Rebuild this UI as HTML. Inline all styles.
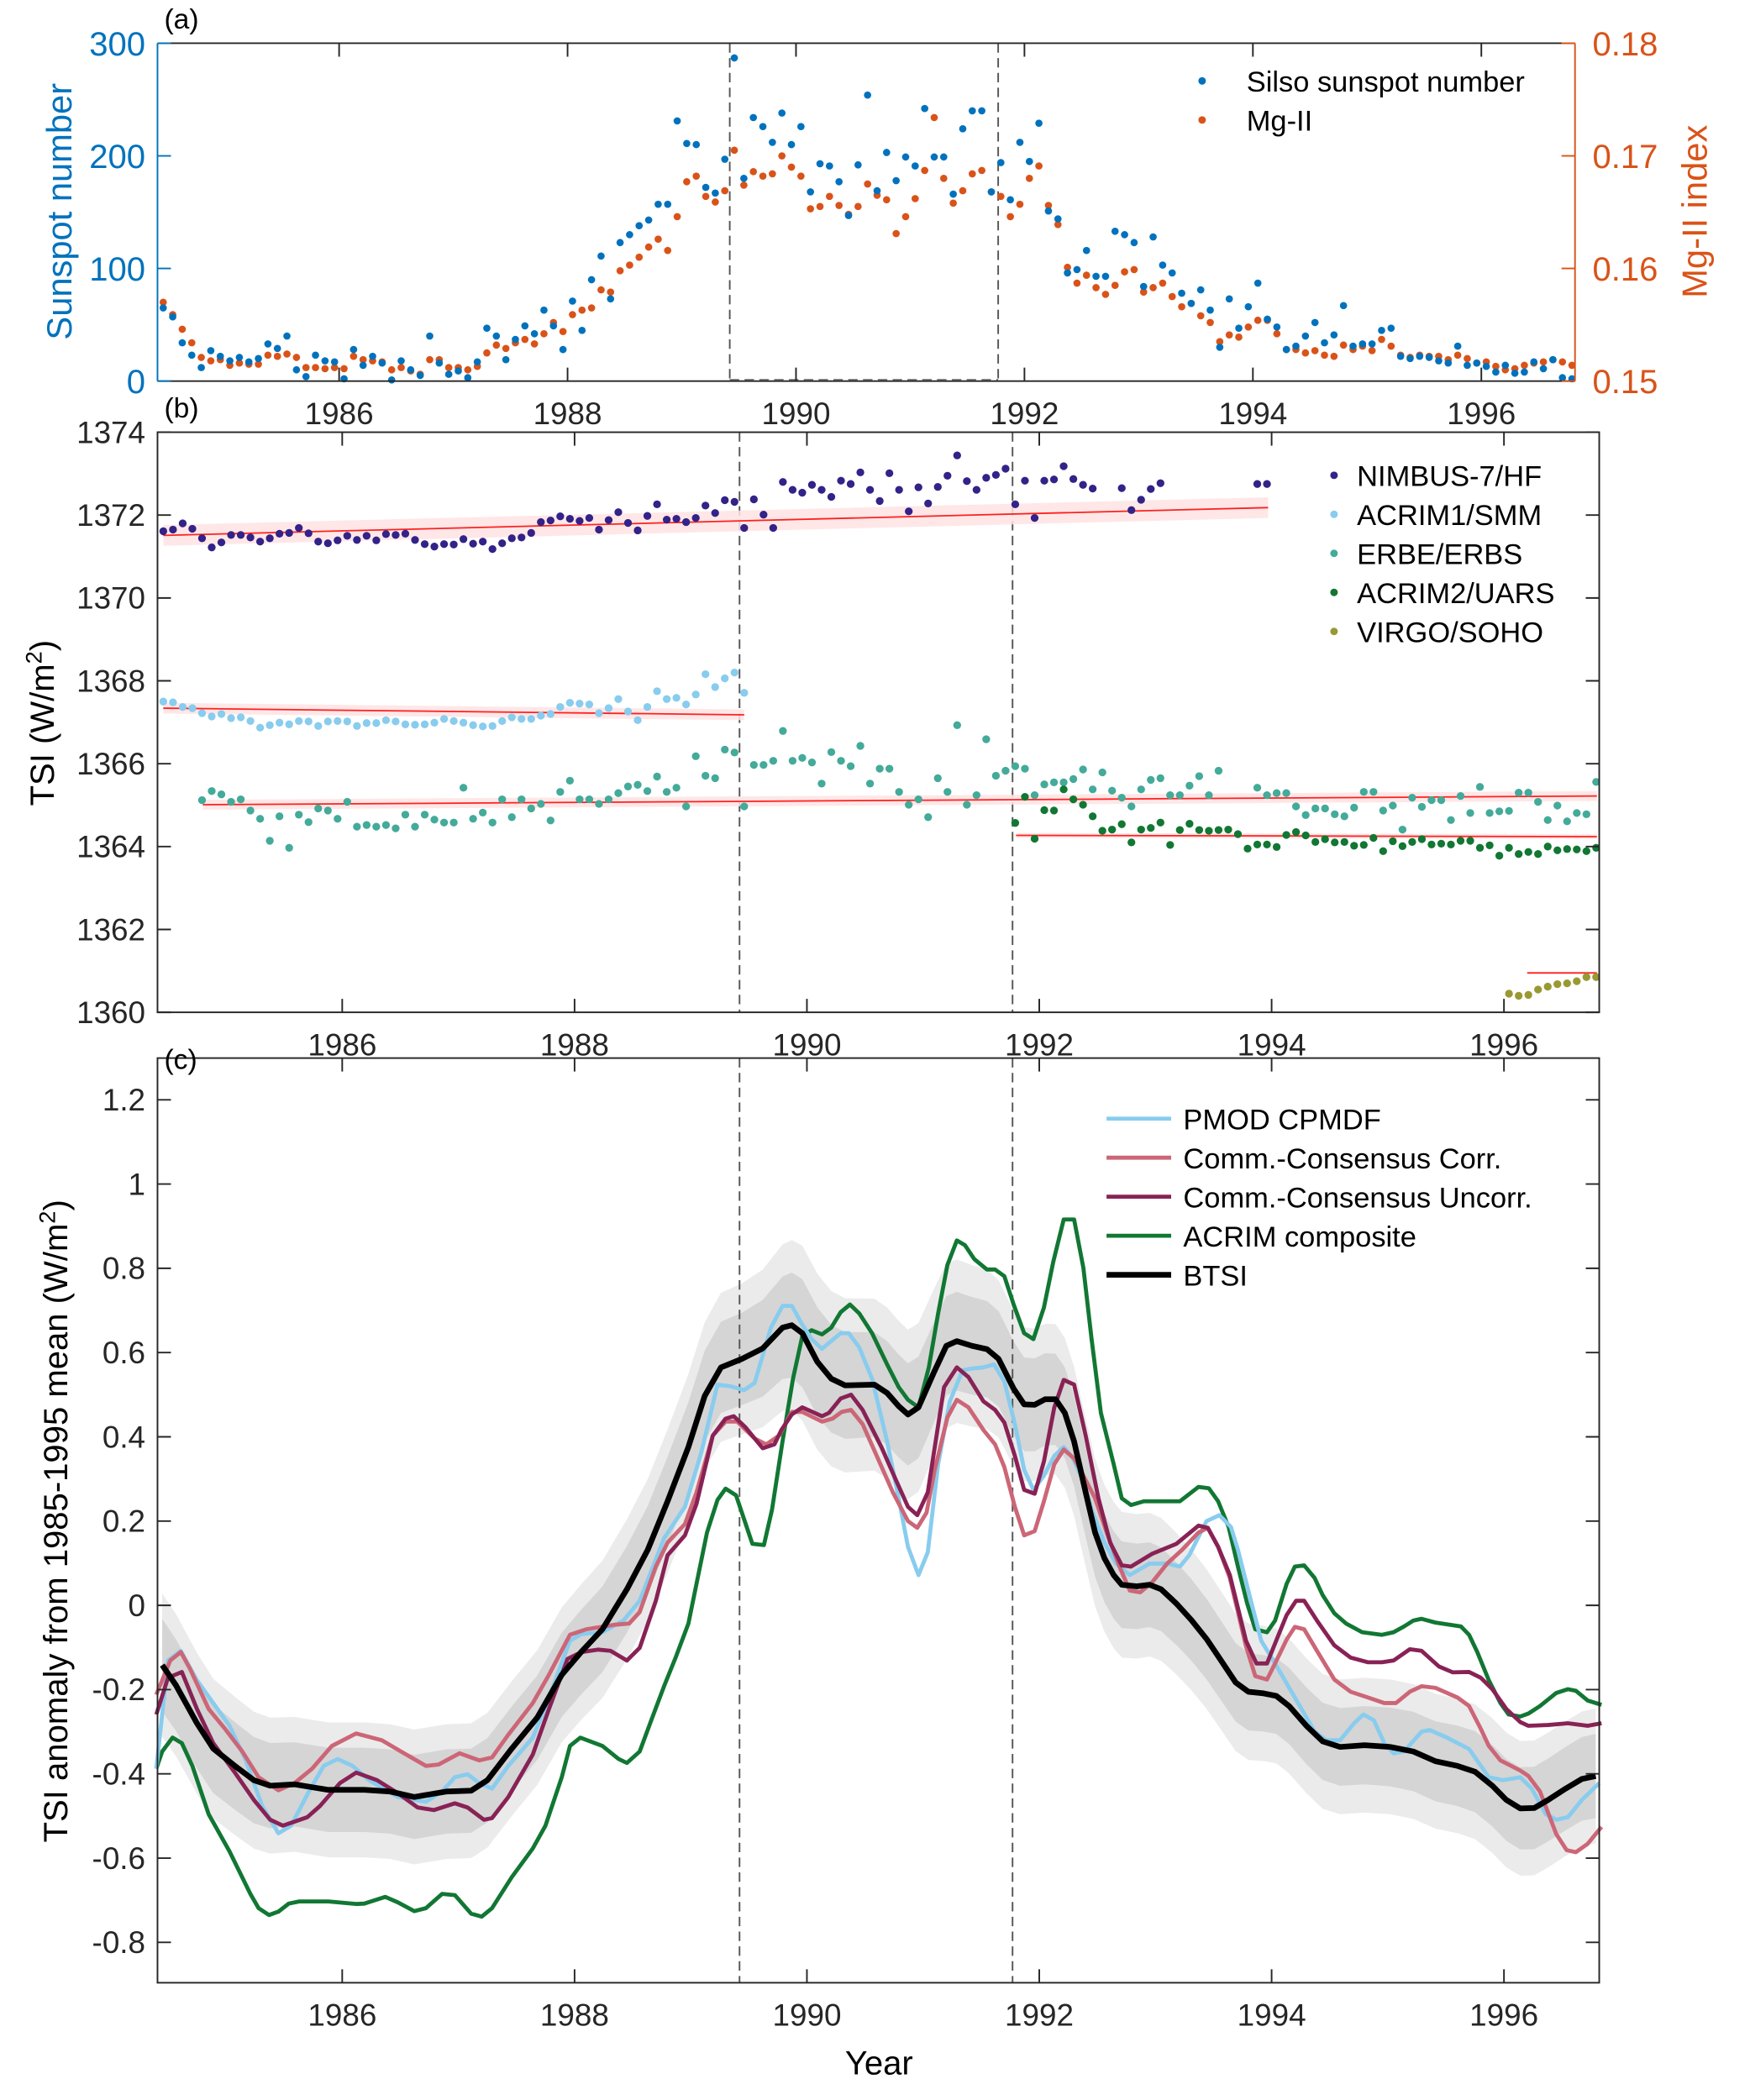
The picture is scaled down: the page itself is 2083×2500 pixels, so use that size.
<!DOCTYPE html>
<html><head><meta charset="utf-8">
<style>
html,body{margin:0;padding:0;background:#fff;}
svg{display:block;font-family:"Liberation Sans",Arial,sans-serif;}
</style></head>
<body>
<svg id="fig" xmlns="http://www.w3.org/2000/svg" width="2083" height="2500" viewBox="0 0 1300 1560">
<rect x="0" y="0" width="1300" height="1560" fill="#fff"/>
<g id="layerA"></g>
<g id="layerB"></g>
<g id="layerC"></g>
<text x="122" y="21" font-size="21">(a)</text>
<text x="122" y="310" font-size="21">(b)</text>
<text x="122" y="794" font-size="21">(c)</text>
<text transform="translate(53,157) rotate(-90)" text-anchor="middle" font-size="26" fill="#0072bd">Sunspot number</text>
<text transform="translate(1268,157) rotate(-90)" text-anchor="middle" font-size="26" fill="#d95319">Mg-II index</text>
<text transform="translate(40,537) rotate(-90)" text-anchor="middle" font-size="25">TSI (W/m<tspan dy="-9" font-size="17">2</tspan><tspan dy="9">)</tspan></text>
<text transform="translate(50,1130) rotate(-90)" text-anchor="middle" font-size="25">TSI anomaly from 1985-1995 mean (W/m<tspan dy="-9" font-size="17">2</tspan><tspan dy="9">)</tspan></text>
<text x="653" y="1541" text-anchor="middle" font-size="25">Year</text>
</svg>
<script>
// ---------- Panel (a) data: monthly, first month at 1984.46 ----------
const monthStart = 1984.46;
const sunspot = [65,57,34,23,12,27,22,18,21,17,20,33,29,40,10,4,23,18,17,2,28,14,22,16,1,18,10,5,40,16,6,9,3,17,47,40,19,37,49,42,63,49,28,71,45,90,111,73,123,130,138,143,157,157,231,211,210,172,167,197,287,180,234,
226,212,238,210,226,168,193,191,177,147,192,254,169,203,178,199,191,242,199,199,166,224,240,240,168,194,161,212,195,229,151,144,96,99,116,93,93,133,130,123,84,128,103,96,78,69,81,63,30,73,47,66,87,55,48,28,31,40,52,34,41,67,31,33,33,45,47,22,20,22,21,18,16,31,14,16,13,8,14,7,8,17,11,19,3,2];
const mgII = [.1570,.1559,.1546,.1534,.1521,.1518,.1519,.1514,.1516,.1515,.1515,.1523,.1522,.1524,.1521,.1512,.1512,.1511,.1512,.1511,.1522,.1519,.1518,.1517,.1510,.1512,.1509,.1506,.1519,.1519,.1512,.1512,.1510,.1513,.1525,.1532,.1529,.1534,.1537,.1533,.1542,.1552,.1544,.1559,.1563,.1565,.1581,.1579,.1598,.1603,.1610,.1619,.1626,.1616,.1646,.1677,.1682,.1664,.1659,.1669,.1705,.1674,.1686,
.1682,.1684,.1700,.1690,.1682,.1653,.1655,.1664,.1656,.1648,.1655,.1675,.1665,.1661,.1631,.1646,.1662,.1687,.1734,.1680,.1658,.1669,.1684,.1687,.1668,.1664,.1646,.1657,.1680,.1691,.1656,.1639,.1601,.1587,.1594,.1583,.1577,.1585,.1597,.1599,.1579,.1583,.1587,.1575,.1566,.1569,.1558,.1552,.1535,.1541,.1539,.1548,.1554,.1554,.1542,.1528,.1528,.1525,.1527,.1523,.1522,.1532,.1528,.1531,.1527,.1537,.1531,.1523,.1521,.1523,.1522,.1522,.1519,.1523,.1520,.1516,.1517,.1513,.1510,.1511,.1514,.1516,.1517,.1519,.1517,.1514];
const ticksA = [0,100,200,300];
const ticksMg = [0.15,0.16,0.17,0.18];
const yearTicks = [1986,1988,1990,1992,1994,1996];
const gapYears = [1989.42,1991.77];

// ---------- Panel (b) data ----------
const nimbusStart = 0;
const nimbus = [1371.61,1371.65,1371.80,1371.67,1371.44,1371.22,1371.34,1371.52,1371.52,1371.46,1371.36,1371.44,1371.55,1371.57,1371.69,1371.56,1371.36,1371.32,1371.39,1371.50,1371.40,1371.50,1371.39,1371.54,1371.52,1371.55,1371.40,1371.30,1371.24,1371.30,1371.29,1371.42,1371.31,1371.36,1371.18,1371.32,1371.44,1371.46,1371.57,1371.83,1371.87,1371.97,1371.91,1371.86,1371.93,1371.65,1371.88,1372.07,1371.81,1371.63,1371.98,1372.26,1371.89,1371.91,1371.83,1371.93,1372.23,1372.05,1372.36,1372.32,
1371.69,1372.38,1372.01,1371.69,1372.80,1372.61,1372.54,1372.73,1372.61,1372.44,1372.83,1372.75,1373.03,1372.61,1372.34,1373.01,1372.61,1372.09,1372.67,1372.28,1372.68,1372.95,1373.44,1372.82,1372.61,1372.90,1372.97,1373.12,1372.26,1372.83,1371.93,1372.83,1372.86,1373.18,1372.87,1372.73,1372.64,null,null,1372.65,1372.12,1372.37,1372.63,1372.77,null,null,null,null,null,null,null,null,null,1372.75,1372.75];
const acrim1Start = 0;
const acrim1 = [1367.50,1367.48,1367.37,1367.34,1367.22,1367.14,1367.20,1367.10,1367.12,1367.03,1366.87,1366.93,1366.99,1366.95,1367.03,1367.02,1366.91,1367.02,1367.03,1367.02,1366.91,1366.98,1366.98,1367.05,1367.02,1366.95,1366.94,1366.95,1366.99,1367.08,1367.03,1366.99,1366.93,1366.90,1366.91,1367.03,1367.12,1367.08,1367.08,1367.16,1367.20,1367.37,1367.47,1367.45,1367.43,1367.22,1367.34,1367.56,1367.26,1367.05,1367.37,1367.75,1367.56,1367.59,1367.43,1367.67,1368.16,1367.85,1368.06,1368.20,1367.71];
const erbeStart = 4;
const erbe = [1365.12,1365.34,1365.26,1365.08,1365.14,1364.87,1364.67,1364.14,1364.73,1363.97,1364.77,1364.59,1364.92,1364.87,1364.67,1365.08,1364.48,1364.52,1364.48,1364.52,1364.44,1364.77,1364.48,1364.77,1364.65,1364.58,1364.58,1365.42,1364.67,1364.82,1364.58,1365.14,1364.71,1365.14,1364.92,1365.03,1364.63,1365.32,1365.59,1365.14,1365.14,1365.03,1365.14,1365.29,1365.45,1365.49,1365.34,1365.69,1365.32,1365.42,1364.97,1366.18,1365.71,1365.65,1366.34,1366.27,
1364.97,1365.97,1365.97,1366.07,1366.79,1366.07,1366.14,1366.03,1365.52,1366.28,1366.07,1365.94,1366.43,1365.52,1365.88,1365.88,1365.32,1365.01,1365.14,1364.71,1365.65,1365.32,1366.93,1365.01,1365.24,1366.59,1365.71,1365.83,1365.94,1365.88,1365.24,1365.50,1365.55,1365.55,1365.63,1365.86,1365.38,1365.79,1365.35,1365.18,1364.97,1365.38,1365.61,1365.65,1365.24,1365.24,1365.47,1365.70,1365.24,1365.83,null,null,null,1365.42,1365.24,1365.29,1365.29,1364.97,1364.76,1364.92,1364.92,1364.78,1364.73,1364.94,1365.32,1365.32,1364.87,1364.99,1364.41,1365.18,1364.96,1365.12,1365.12,1364.64,1365.22,1364.81,1365.44,1364.81,1364.85,1364.86,1365.30,1365.30,1365.08,1364.64,1364.99,1364.61,1364.81,1364.78,1365.56];
const acrim2Start = 88;
const acrim2 = [1364.57,1365.20,1364.19,1364.88,1364.87,1365.38,1365.14,1365.01,1364.73,1364.38,1364.41,1364.54,1364.10,1364.41,1364.45,1364.58,1364.04,1364.40,1364.55,1364.40,1364.38,1364.40,1364.41,1364.30,1363.95,1364.05,1364.05,1363.99,1364.28,1364.35,1364.27,1364.11,1364.18,1364.10,1364.11,1364.02,1364.04,1364.21,1363.89,1364.13,1364.01,1364.11,1364.18,1364.05,1364.07,1364.05,1364.14,1364.14,1363.97,1364.03,1363.78,1363.97,1363.82,1363.87,1363.82,1364.00,1363.91,1363.94,1363.93,1363.89,1363.97];
const virgoStart = 139;
const virgo = [1360.45,1360.40,1360.42,1360.55,1360.62,1360.68,1360.70,1360.75,1360.85,1360.85];
// trend fits: [startYear, endYear, startValue, endValue, halfWidth]
const trendNimbus = [1984.46,1993.97,1371.51,1372.18,0.25];
const trendAcrim1 = [1984.46,1989.46,1367.34,1367.18,0.13];
const trendErbe = [1984.80,1996.80,1365.01,1365.22,0.12];
const trendAcrim2 = [1991.80,1996.80,1364.27,1364.24,0.06];
const trendVirgo = [1996.20,1996.80,1360.95,1360.95,0.03];
const ticksB = [1360,1362,1364,1366,1368,1370,1372,1374];

// ---------- Panel (c) data ----------
const btsiT = [1984.45,1984.57,1984.75,1984.89,1985.07,1985.24,1985.38,1985.59,1985.88,1986.19,1986.41,1986.62,1986.90,1987.11,1987.25,1987.46,1987.68,1987.89,1988.06,1988.24,1988.45,1988.63,1988.80,1988.98,1989.12,1989.26,1989.44,1989.62,1989.79,1989.87,1989.96,1990.09,1990.21,1990.33,1990.58,1990.69,1990.79,1990.87,1990.96,1991.09,1991.20,1991.29,1991.42,1991.55,1991.65,1991.78,1991.87,1991.96,1992.05,1992.14,1992.22,1992.30,1992.40,1992.48,1992.56,1992.64,1992.71,1992.84,1992.95,1993.05,1993.18,1993.31,1993.44,1993.55,1993.69,1993.80,1993.93,1994.04,1994.15,1994.30,1994.44,1994.59,1994.80,1995.02,1995.22,1995.41,1995.60,1995.75,1995.90,1996.02,1996.14,1996.26,1996.38,1996.53,1996.67,1996.79];
const btsiV = [-0.142,-0.19,-0.28,-0.34,-0.38,-0.415,-0.428,-0.425,-0.438,-0.438,-0.442,-0.455,-0.442,-0.44,-0.415,-0.34,-0.266,-0.165,-0.11,-0.057,0.038,0.132,0.247,0.376,0.497,0.565,0.585,0.61,0.659,0.665,0.646,0.578,0.538,0.522,0.524,0.504,0.473,0.453,0.470,0.551,0.616,0.627,0.616,0.608,0.585,0.514,0.477,0.476,0.489,0.489,0.457,0.389,0.268,0.173,0.112,0.072,0.049,0.045,0.049,0.038,0.004,-0.035,-0.08,-0.125,-0.183,-0.205,-0.209,-0.215,-0.239,-0.286,-0.323,-0.336,-0.332,-0.336,-0.347,-0.37,-0.381,-0.395,-0.428,-0.462,-0.482,-0.481,-0.462,-0.435,-0.412,-0.405];
const bandT = [1984.45,1985.5,1988.0,1989.5,1990.0,1991.0,1992.0,1993.0,1994.0,1996.8];
const bandInner = [0.11,0.10,0.10,0.11,0.13,0.12,0.11,0.10,0.09,0.10];
const bandOuter = [0.17,0.16,0.16,0.18,0.21,0.20,0.18,0.17,0.16,0.16];
const pmodT = [1984.40,1984.50,1984.61,1984.75,1984.89,1985.03,1985.17,1985.31,1985.45,1985.56,1985.70,1985.84,1985.96,1986.09,1986.23,1986.48,1986.72,1986.86,1986.97,1987.08,1987.18,1987.29,1987.43,1987.64,1987.78,1987.96,1988.06,1988.24,1988.42,1988.56,1988.77,1988.95,1989.09,1989.23,1989.34,1989.46,1989.55,1989.69,1989.79,1989.87,1989.96,1990.04,1990.13,1990.29,1990.36,1990.45,1990.56,1990.69,1990.79,1990.87,1990.96,1991.04,1991.13,1991.23,1991.34,1991.42,1991.52,1991.61,1991.70,1991.79,1991.87,1991.95,1992.04,1992.13,1992.21,1992.29,1992.38,1992.45,1992.56,1992.66,1992.78,1992.95,1993.10,1993.21,1993.29,1993.44,1993.55,1993.65,1993.71,1993.81,1993.91,1994.03,1994.20,1994.37,1994.47,1994.59,1994.71,1994.79,1994.88,1994.97,1995.05,1995.14,1995.29,1995.36,1995.51,1995.70,1995.87,1995.99,1996.14,1996.24,1996.36,1996.45,1996.55,1996.67,1996.82];
const pmodV = [-0.388,-0.131,-0.108,-0.178,-0.232,-0.286,-0.368,-0.476,-0.541,-0.523,-0.449,-0.381,-0.365,-0.381,-0.415,-0.455,-0.466,-0.442,-0.408,-0.401,-0.422,-0.435,-0.381,-0.314,-0.219,-0.084,-0.068,-0.064,-0.036,0.011,0.159,0.234,0.362,0.524,0.520,0.511,0.528,0.659,0.711,0.711,0.666,0.632,0.609,0.646,0.646,0.612,0.538,0.389,0.254,0.139,0.072,0.126,0.335,0.484,0.558,0.562,0.565,0.572,0.531,0.430,0.322,0.274,0.308,0.355,0.376,0.349,0.295,0.227,0.149,0.099,0.072,0.099,0.099,0.092,0.119,0.2,0.214,0.186,0.132,0.024,-0.084,-0.138,-0.219,-0.3,-0.32,-0.32,-0.28,-0.259,-0.273,-0.327,-0.351,-0.347,-0.3,-0.296,-0.314,-0.341,-0.408,-0.415,-0.408,-0.435,-0.496,-0.509,-0.503,-0.462,-0.422];
const corrT = [1984.40,1984.52,1984.61,1984.69,1984.85,1984.99,1985.14,1985.28,1985.45,1985.59,1985.74,1985.91,1986.12,1986.34,1986.55,1986.72,1986.83,1987.01,1987.18,1987.29,1987.43,1987.64,1987.78,1987.96,1988.10,1988.35,1988.47,1988.56,1988.70,1988.80,1988.95,1989.05,1989.19,1989.30,1989.40,1989.55,1989.65,1989.76,1989.87,1989.96,1990.13,1990.22,1990.30,1990.38,1990.48,1990.61,1990.74,1990.87,1990.95,1991.03,1991.10,1991.21,1991.29,1991.39,1991.52,1991.62,1991.70,1991.79,1991.87,1991.96,1992.04,1992.13,1992.21,1992.30,1992.38,1992.48,1992.58,1992.69,1992.78,1992.87,1992.97,1993.10,1993.23,1993.37,1993.45,1993.54,1993.64,1993.71,1993.78,1993.86,1993.96,1994.03,1994.13,1994.20,1994.28,1994.39,1994.54,1994.68,1994.83,1994.97,1995.07,1995.19,1995.29,1995.41,1995.60,1995.70,1995.80,1995.87,1995.97,1996.14,1996.21,1996.31,1996.45,1996.54,1996.62,1996.72,1996.84];
const corrV = [-0.212,-0.131,-0.111,-0.151,-0.246,-0.293,-0.347,-0.408,-0.439,-0.422,-0.388,-0.334,-0.304,-0.320,-0.354,-0.381,-0.378,-0.351,-0.368,-0.361,-0.307,-0.232,-0.165,-0.07,-0.057,-0.046,-0.043,-0.016,0.092,0.149,0.193,0.268,0.403,0.436,0.436,0.396,0.382,0.403,0.459,0.459,0.436,0.443,0.459,0.464,0.43,0.349,0.268,0.2,0.184,0.220,0.322,0.446,0.488,0.470,0.416,0.382,0.328,0.234,0.166,0.176,0.247,0.335,0.370,0.349,0.308,0.254,0.173,0.092,0.035,0.031,0.054,0.099,0.132,0.173,0.184,0.139,0.065,-0.016,-0.097,-0.168,-0.176,-0.138,-0.081,-0.051,-0.057,-0.108,-0.176,-0.205,-0.219,-0.232,-0.232,-0.205,-0.192,-0.196,-0.219,-0.239,-0.293,-0.334,-0.368,-0.392,-0.405,-0.442,-0.543,-0.581,-0.586,-0.566,-0.526];
const uncorrT = [1984.40,1984.50,1984.62,1984.75,1984.89,1985.07,1985.24,1985.38,1985.49,1985.70,1985.81,1985.98,1986.12,1986.30,1986.48,1986.65,1986.79,1986.97,1987.08,1987.22,1987.29,1987.43,1987.64,1987.78,1987.94,1988.06,1988.20,1988.31,1988.45,1988.56,1988.70,1988.80,1988.95,1989.05,1989.19,1989.30,1989.37,1989.47,1989.62,1989.72,1989.78,1989.87,1989.96,1990.13,1990.19,1990.29,1990.38,1990.48,1990.64,1990.77,1990.87,1990.95,1991.04,1991.18,1991.29,1991.39,1991.52,1991.62,1991.70,1991.79,1991.87,1991.96,1992.04,1992.13,1992.21,1992.30,1992.40,1992.51,1992.61,1992.71,1992.79,1992.97,1993.18,1993.37,1993.45,1993.54,1993.64,1993.78,1993.87,1993.96,1994.05,1994.13,1994.21,1994.28,1994.39,1994.54,1994.68,1994.83,1994.95,1995.05,1995.19,1995.29,1995.44,1995.56,1995.70,1995.80,1995.90,1996.02,1996.14,1996.21,1996.38,1996.55,1996.72,1996.84];
const uncorrV = [-0.259,-0.172,-0.158,-0.246,-0.327,-0.395,-0.462,-0.509,-0.523,-0.503,-0.476,-0.422,-0.397,-0.415,-0.446,-0.480,-0.486,-0.470,-0.480,-0.509,-0.505,-0.455,-0.354,-0.246,-0.127,-0.111,-0.105,-0.108,-0.131,-0.101,0.011,0.119,0.166,0.241,0.403,0.443,0.449,0.423,0.373,0.382,0.416,0.453,0.470,0.449,0.457,0.491,0.5,0.464,0.376,0.295,0.234,0.214,0.268,0.518,0.565,0.542,0.484,0.464,0.434,0.355,0.274,0.265,0.342,0.470,0.535,0.524,0.403,0.254,0.149,0.095,0.092,0.122,0.146,0.189,0.184,0.139,0.072,-0.084,-0.138,-0.138,-0.077,-0.023,0.011,0.011,-0.036,-0.095,-0.124,-0.135,-0.135,-0.131,-0.104,-0.108,-0.145,-0.159,-0.158,-0.172,-0.199,-0.246,-0.277,-0.286,-0.284,-0.280,-0.286,-0.280];
const acrimT = [1984.40,1984.45,1984.54,1984.62,1984.71,1984.85,1985.03,1985.21,1985.28,1985.37,1985.45,1985.54,1985.63,1985.88,1986.12,1986.19,1986.37,1986.48,1986.62,1986.72,1986.86,1986.97,1987.11,1987.20,1987.29,1987.46,1987.64,1987.75,1987.89,1987.96,1988.05,1988.24,1988.38,1988.45,1988.56,1988.66,1988.77,1988.87,1988.98,1989.05,1989.14,1989.23,1989.30,1989.39,1989.53,1989.63,1989.70,1989.79,1989.88,1989.96,1990.04,1990.13,1990.21,1990.29,1990.37,1990.45,1990.56,1990.69,1990.79,1990.87,1990.96,1991.05,1991.13,1991.21,1991.29,1991.36,1991.44,1991.55,1991.62,1991.70,1991.78,1991.87,1991.95,1992.04,1992.12,1992.21,1992.30,1992.38,1992.45,1992.53,1992.64,1992.71,1992.79,1992.90,1993.05,1993.21,1993.37,1993.46,1993.54,1993.63,1993.71,1993.79,1993.86,1993.96,1994.03,1994.13,1994.20,1994.28,1994.37,1994.44,1994.54,1994.64,1994.78,1994.95,1995.05,1995.14,1995.22,1995.29,1995.41,1995.63,1995.70,1995.77,1995.87,1995.97,1996.04,1996.14,1996.21,1996.31,1996.45,1996.55,1996.62,1996.72,1996.84];
const acrimV = [-0.388,-0.347,-0.314,-0.327,-0.381,-0.496,-0.584,-0.685,-0.719,-0.735,-0.727,-0.708,-0.703,-0.703,-0.709,-0.708,-0.692,-0.705,-0.726,-0.719,-0.685,-0.688,-0.732,-0.739,-0.719,-0.645,-0.577,-0.523,-0.408,-0.334,-0.314,-0.334,-0.365,-0.374,-0.347,-0.273,-0.192,-0.124,-0.043,0.051,0.173,0.25,0.277,0.261,0.146,0.143,0.227,0.389,0.538,0.639,0.653,0.643,0.659,0.696,0.714,0.693,0.646,0.572,0.518,0.488,0.470,0.565,0.693,0.808,0.866,0.855,0.822,0.797,0.797,0.781,0.714,0.646,0.632,0.707,0.815,0.916,0.916,0.801,0.632,0.457,0.335,0.254,0.238,0.247,0.247,0.247,0.281,0.278,0.247,0.186,0.092,0.004,-0.057,-0.064,-0.036,0.051,0.092,0.095,0.065,0.024,-0.019,-0.043,-0.064,-0.07,-0.064,-0.05,-0.036,-0.032,-0.041,-0.05,-0.07,-0.111,-0.178,-0.232,-0.259,-0.264,-0.257,-0.239,-0.208,-0.199,-0.203,-0.226,-0.236];
const ticksC = [-0.8,-0.6,-0.4,-0.2,0,0.2,0.4,0.6,0.8,1,1.2];
const ticksCLabels = ["-0.8","-0.6","-0.4","-0.2","0","0.2","0.4","0.6","0.8","1","1.2"];

// ---------- scales ----------
const T0 = 1984.41, T1 = 1996.82;
const A = {l:117, r:1170, t:32, b:283};
const B = {l:117, r:1188, t:321, b:752};
const C = {l:117, r:1188, t:786, b:1473};
function xa(t){ return A.l + (t - T0) / (T1 - T0) * (A.r - A.l); }
function xb(t){ return B.l + (t - T0) / (T1 - T0) * (B.r - B.l); }
function ya(v){ return A.b - v / 300 * (A.b - A.t); }
function ymg(m){ return A.b - (m - 0.15) / 0.03 * (A.b - A.t); }
function yb(v){ return B.b - (v - 1360) / 14 * (B.b - B.t); }
function yc(v){ return 817 + (1.2 - v) * 313; }
function monthT(i){ return monthStart + i / 12; }

const NS = 'http://www.w3.org/2000/svg';
function mk(tag, attrs, parent){
  const e = document.createElementNS(NS, tag);
  for (const k in attrs) e.setAttribute(k, attrs[k]);
  parent.appendChild(e);
  return e;
}
const LA = document.getElementById('layerA');
const LB = document.getElementById('layerB');
const LC = document.getElementById('layerC');

function axesBox(L, box, name){
  const r = mk('rect', {x:box.l, y:box.t, width:box.r-box.l, height:box.b-box.t, fill:'none', stroke:'#262626', 'stroke-width':1.2}, L);
  
  
}
function xTicks(L, box, xf, name){
  yearTicks.forEach(function(yr){
    const x = xf(yr);
    const t1 = mk('line', {x1:x, x2:x, y1:box.b, y2:box.b-10, stroke:'#262626', 'stroke-width':1.2}, L);
    
    
    const t2 = mk('line', {x1:x, x2:x, y1:box.t, y2:box.t+10, stroke:'#262626', 'stroke-width':1.2}, L);
    
    
    const lb = mk('text', {x:x, y:box.b+32, 'text-anchor':'middle', 'font-size':23, fill:'#262626'}, L);
    lb.textContent = String(yr);
    
    
  });
}
function gapLines(L, box, xf, name){
  gapYears.forEach(function(g){
    const d = mk('line', {x1:xf(g), x2:xf(g), y1:box.t, y2:box.b, stroke:'#555', 'stroke-width':1.2, 'stroke-dasharray':'7,4'}, L);
    
    
  });
}

// ================= Panel A =================
gapLines(LA, A, xa, 'panel-a');
const hd = mk('line', {x1:xa(gapYears[0]), x2:xa(gapYears[1]), y1:A.b-1, y2:A.b-1, stroke:'#777', 'stroke-width':1.2, 'stroke-dasharray':'7,4'}, LA);


mgII.forEach(function(v, i){
  const c = mk('circle', {cx:xa(monthT(i)), cy:ymg(v), r:2.7, fill:'#d95319'}, LA);
  
  
});
sunspot.forEach(function(v, i){
  const c = mk('circle', {cx:xa(monthT(i)), cy:ya(v), r:2.7, fill:'#0072bd'}, LA);
  
  
});
// box: top & bottom black, left blue, right orange
const aTop = mk('line', {x1:A.l, x2:A.r, y1:A.t, y2:A.t, stroke:'#262626', 'stroke-width':1.2}, LA);


const aBot = mk('line', {x1:A.l, x2:A.r, y1:A.b, y2:A.b, stroke:'#262626', 'stroke-width':1.2}, LA);


const aL = mk('line', {x1:A.l, x2:A.l, y1:A.t, y2:A.b, stroke:'#0072bd', 'stroke-width':1.2}, LA);


const aR = mk('line', {x1:A.r, x2:A.r, y1:A.t, y2:A.b, stroke:'#d95319', 'stroke-width':1.2}, LA);


ticksA.forEach(function(v){
  const y = ya(v);
  const t = mk('line', {x1:A.l, x2:A.l+10, y1:y, y2:y, stroke:'#0072bd', 'stroke-width':1.2}, LA);
  
  
  const lb = mk('text', {x:A.l-9, y:y+9, 'text-anchor':'end', 'font-size':25, fill:'#0072bd'}, LA);
  lb.textContent = String(v);
  
  
});
ticksMg.forEach(function(v){
  const y = ymg(v);
  const t = mk('line', {x1:A.r-10, x2:A.r, y1:y, y2:y, stroke:'#d95319', 'stroke-width':1.2}, LA);
  
  
  const lb = mk('text', {x:A.r+13, y:y+9, 'text-anchor':'start', 'font-size':25, fill:'#d95319'}, LA);
  lb.textContent = v.toFixed(2);
  
  
});
xTicks(LA, A, xa, 'panel-a');
const legA = [['Silso sunspot number','#0072bd'],['Mg-II','#d95319']];
legA.forEach(function(e, k){
  const y = 60 + k*29;
  const m = mk('circle', {cx:893, cy:y, r:2.8, fill:e[1]}, LA);
  
  
  const t = mk('text', {x:926, y:y+8, 'font-size':21.5, fill:'#000'}, LA);
  t.textContent = e[0];
  
  
});

// ================= Panel B =================
gapLines(LB, B, xb, 'panel-b');
function trend(tr, name){
  const x1 = xb(tr[0]), x2 = xb(tr[1]);
  const band = mk('polygon', {points: x1+','+yb(tr[2]+tr[4])+' '+x2+','+yb(tr[3]+tr[4])+' '+x2+','+yb(tr[3]-tr[4])+' '+x1+','+yb(tr[2]-tr[4]), fill:'#ffe3e3', opacity:0.85}, LB);
  
  
  const ln = mk('line', {x1:x1, x2:x2, y1:yb(tr[2]), y2:yb(tr[3]), stroke:'#ff2020', 'stroke-width':1.1}, LB);
  
  
}
trend(trendNimbus, 'nimbus');
trend(trendAcrim1, 'acrim1');
trend(trendErbe, 'erbe');
trend(trendAcrim2, 'acrim2');
trend(trendVirgo, 'virgo');
function dots(arr, start, color, name){
  arr.forEach(function(v, i){
    if (v === null) return;
    const c = mk('circle', {cx:xb(monthT(start+i)), cy:yb(v), r:2.9, fill:color}, LB);
    
    
  });
}
dots(nimbus, nimbusStart, '#332288', 'nimbus');
dots(acrim1, acrim1Start, '#88ccee', 'acrim1');
dots(erbe, erbeStart, '#44aa99', 'erbe');
dots(acrim2, acrim2Start, '#117733', 'acrim2');
dots(virgo, virgoStart, '#999933', 'virgo');
axesBox(LB, B, 'panel-b');
ticksB.forEach(function(v){
  const y = yb(v);
  const t = mk('line', {x1:B.l, x2:B.l+10, y1:y, y2:y, stroke:'#262626', 'stroke-width':1.2}, LB);
  
  
  const t2 = mk('line', {x1:B.r-10, x2:B.r, y1:y, y2:y, stroke:'#262626', 'stroke-width':1.2}, LB);
  
  
  const lb = mk('text', {x:B.l-9, y:y+8, 'text-anchor':'end', 'font-size':23, fill:'#262626'}, LB);
  lb.textContent = String(v);
  
  
});
xTicks(LB, B, xb, 'panel-b');
const legB = [['NIMBUS-7/HF','#332288'],['ACRIM1/SMM','#88ccee'],['ERBE/ERBS','#44aa99'],['ACRIM2/UARS','#117733'],['VIRGO/SOHO','#999933']];
legB.forEach(function(e, k){
  const y = 353 + k*29;
  const m = mk('circle', {cx:991, cy:y, r:2.8, fill:e[1]}, LB);
  
  
  const t = mk('text', {x:1008, y:y+8, 'font-size':21.5, fill:'#000'}, LB);
  t.textContent = e[0];
  
  
});

// ================= Panel C =================
function interpBand(t, arr){
  if (t <= bandT[0]) return arr[0];
  for (let k = 1; k < bandT.length; k++){
    if (t <= bandT[k]){
      const f = (t - bandT[k-1]) / (bandT[k] - bandT[k-1]);
      return arr[k-1] + f * (arr[k] - arr[k-1]);
    }
  }
  return arr[arr.length-1];
}
function bandPoly(widths, fill, name){
  const up = [], dn = [];
  const n = Math.min(btsiT.length, btsiV.length);
  for (let i = 0; i < n; i++){
    const w = interpBand(btsiT[i], widths);
    up.push(xb(btsiT[i]).toFixed(1) + ',' + yc(btsiV[i] + w).toFixed(1));
    dn.unshift(xb(btsiT[i]).toFixed(1) + ',' + yc(btsiV[i] - w).toFixed(1));
  }
  const p = mk('polygon', {points: up.concat(dn).join(' '), fill:fill}, LC);
  
  
}
bandPoly(bandOuter, '#ebebeb', 'btsi-outer-band');
bandPoly(bandInner, '#d5d5d5', 'btsi-inner-band');
gapLines(LC, C, xb, 'panel-c');
function series(T, V, color, w, name){
  const n = Math.min(T.length, V.length);
  const pts = [];
  for (let i = 0; i < n; i++) pts.push(xb(T[i]).toFixed(1) + ',' + yc(V[i]).toFixed(1));
  const p = mk('polyline', {points: pts.join(' '), fill:'none', stroke:color, 'stroke-width':w, 'stroke-linejoin':'round'}, LC);
  
  
}
series(acrimT, acrimV, '#117733', 3, 'acrim-composite-line');
series(pmodT, pmodV, '#88ccee', 3, 'pmod-line');
series(corrT, corrV, '#cc6677', 3, 'comm-consensus-corr-line');
series(uncorrT, uncorrV, '#882255', 3, 'comm-consensus-uncorr-line');
series(btsiT, btsiV, '#000000', 4.2, 'btsi-line');
axesBox(LC, C, 'panel-c');
ticksC.forEach(function(v, k){
  const y = yc(v);
  const t = mk('line', {x1:C.l, x2:C.l+10, y1:y, y2:y, stroke:'#262626', 'stroke-width':1.2}, LC);
  
  
  const t2 = mk('line', {x1:C.r-10, x2:C.r, y1:y, y2:y, stroke:'#262626', 'stroke-width':1.2}, LC);
  
  
  const lb = mk('text', {x:C.l-9, y:y+8, 'text-anchor':'end', 'font-size':23, fill:'#262626'}, LC);
  lb.textContent = ticksCLabels[k];
  
  
});
xTicks(LC, C, xb, 'panel-c');
const legC = [['PMOD CPMDF','#88ccee',3],['Comm.-Consensus Corr.','#cc6677',3],['Comm.-Consensus Uncorr.','#882255',3],['ACRIM composite','#117733',3],['BTSI','#000000',4.2]];
legC.forEach(function(e, k){
  const y = 831 + k*29;
  const l = mk('line', {x1:822, x2:870, y1:y, y2:y, stroke:e[1], 'stroke-width':e[2]}, LC);
  
  
  const t = mk('text', {x:879, y:y+8, 'font-size':21.5, fill:'#000'}, LC);
  t.textContent = e[0];
  
  
});
</script>
</body></html>
